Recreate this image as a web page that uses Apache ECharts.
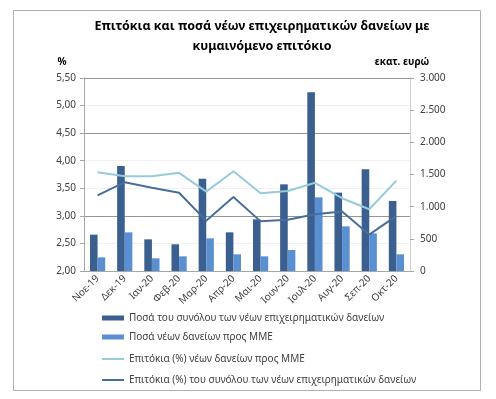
<!DOCTYPE html>
<html>
<head>
<meta charset="utf-8">
<script src="https://cdn.jsdelivr.net/npm/echarts@6/dist/echarts.min.js"></script>
<style>
  html, body { margin: 0; padding: 0; background: #fff; }
  #chart { width: 496px; height: 399px; }
</style>
</head>
<body>
<div id="chart"></div>
<script>
// μήνες
var months = ['Νοε-19', 'Δεκ-19', 'Ιαν-20', 'Φεβ-20', 'Μαρ-20', 'Απρ-20', 'Μαι-20', 'Ιουν-20', 'Ιουλ-20', 'Αυγ-20', 'Σεπ-20', 'Οκτ-20'];

// ποσά (εκατ. ευρώ)
var totalAmount = [565, 1632, 492, 415, 1435, 601, 803, 1347, 2777, 1218, 1580, 1088];
var smeAmount = [212, 601, 197, 228, 508, 259, 228, 326, 1145, 694, 585, 259];

// επιτόκια (%)
var smeRate = [3.79, 3.72, 3.72, 3.78, 3.44, 3.81, 3.41, 3.45, 3.60, 3.32, 3.12, 3.64];
var totalRate = [3.37, 3.61, 3.51, 3.42, 2.91, 3.34, 2.90, 2.93, 3.03, 3.08, 2.66, 3.00];

var seriesNames = [
    'Ποσά του συνόλου των νέων επιχειρηματικών δανείων',
    'Ποσά νέων δανείων προς ΜΜΕ',
    'Επιτόκια (%) νέων δανείων προς ΜΜΕ',
    'Επιτόκια (%) του συνόλου των νέων επιχειρηματικών δανείων'
];

var font = 'Noto Sans';
var textColor = '#404040';

var option = {
    animation: false,
    textStyle: { fontFamily: font },
    graphic: [{
        type: 'rect',
        shape: { x: 13.5, y: 10.5, width: 467, height: 380 },
        style: { fill: 'none', stroke: '#b0b0b0', lineWidth: 1 }
    }, {
        type: 'text',
        x: 262, y: 16,
        style: {
            text: 'Επιτόκια και ποσά νέων επιχειρηματικών δανείων με\nκυμαινόμενο επιτόκιο',
            textAlign: 'center',
            font: 'bold 12.5px "Noto Sans"',
            fill: '#000',
            lineHeight: 20
        }
    }, {
        type: 'text',
        x: 62, y: 57,
        style: { text: '%', textAlign: 'center', font: 'bold 10px "Noto Sans"', fill: '#000' }
    }, {
        type: 'text',
        x: 402, y: 57,
        style: { text: 'εκατ. ευρώ', textAlign: 'center', font: 'bold 10px "Noto Sans"', fill: '#000' }
    }],
    grid: { left: 84, right: 86, top: 78, bottom: 128 },
    legend: [{
        orient: 'vertical',
        left: 97, top: 308,
        itemWidth: 22, itemHeight: 5, itemGap: 9,
        icon: 'rect',
        data: [seriesNames[0], seriesNames[1]],
        textStyle: { fontSize: 10, color: textColor, fontFamily: font }
    }, {
        orient: 'vertical',
        left: 97, top: 349,
        itemWidth: 22, itemHeight: 2, itemGap: 11,
        icon: 'rect',
        data: [seriesNames[2], seriesNames[3]],
        textStyle: { fontSize: 10, color: textColor, fontFamily: font }
    }],
    xAxis: {
        type: 'category',
        data: months,
        axisLine: { lineStyle: { color: '#a6a6a6' } },
        axisTick: { length: 4, lineStyle: { color: '#a6a6a6' } },
        axisLabel: { rotate: 45, fontSize: 10, color: textColor, margin: 6 }
    },
    yAxis: [{
        type: 'value',
        min: 2, max: 5.5, interval: 0.5,
        axisLine: { show: true, lineStyle: { color: '#a6a6a6' } },
        axisTick: { show: true, length: 4, lineStyle: { color: '#a6a6a6' } },
        axisLabel: {
            fontSize: 10, color: textColor,
            formatter: function (v) { return v.toFixed(2).replace('.', ','); }
        },
        splitLine: {
            lineStyle: {
                color: ['#f0f0f0', '#f0f0f0', '#959595', '#f0f0f0', '#f0f0f0', '#959595', '#f0f0f0', '#959595']
            }
        }
    }, {
        type: 'value',
        min: 0, max: 3000, interval: 500,
        axisLine: { show: true, lineStyle: { color: '#d0d0d0' } },
        axisTick: { show: true, length: 4, lineStyle: { color: '#a6a6a6' } },
        axisLabel: {
            fontSize: 10, color: textColor, margin: 10,
            formatter: function (v) { return String(v).replace(/\B(?=(\d{3})+(?!\d))/g, '.'); }
        },
        splitLine: { show: false }
    }],
    series: [{
        name: seriesNames[0],
        type: 'bar',
        yAxisIndex: 1,
        data: totalAmount,
        barGap: '0%',
        barCategoryGap: '44%',
        itemStyle: { color: '#3b5f8e' }
    }, {
        name: seriesNames[1],
        type: 'bar',
        yAxisIndex: 1,
        data: smeAmount,
        itemStyle: { color: '#5a8fd2' }
    }, {
        name: seriesNames[2],
        type: 'line',
        yAxisIndex: 0,
        data: smeRate,
        symbol: 'none',
        lineStyle: { color: '#96cbda', width: 2 },
        itemStyle: { color: '#96cbda' }
    }, {
        name: seriesNames[3],
        type: 'line',
        yAxisIndex: 0,
        data: totalRate,
        symbol: 'none',
        lineStyle: { color: '#4a6e9b', width: 2 },
        itemStyle: { color: '#4a6e9b' }
    }]
};

echarts.init(document.getElementById('chart')).setOption(option);
</script>
</body>
</html>
